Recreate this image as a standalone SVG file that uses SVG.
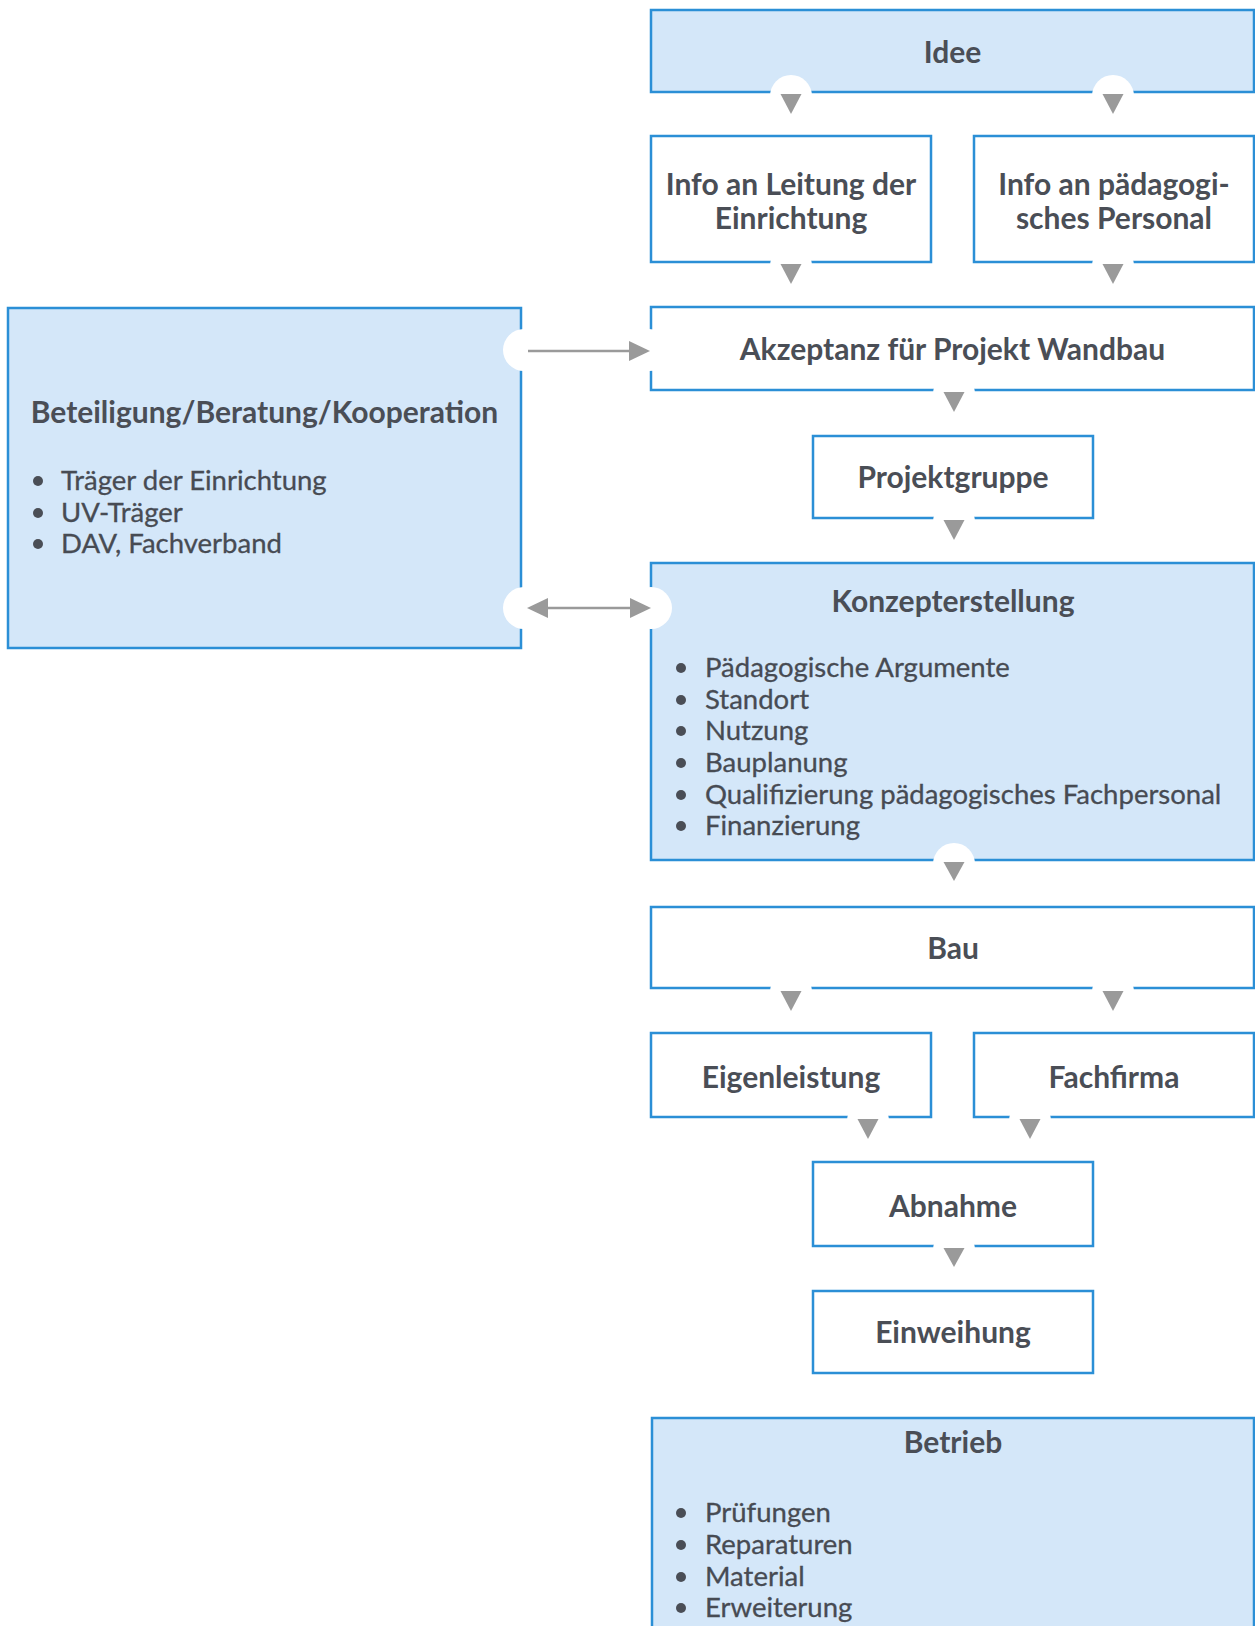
<svg xmlns="http://www.w3.org/2000/svg" width="1255" height="1626" viewBox="0 0 1255 1626">
<style>
.box{stroke:#2b8fd6;stroke-width:2.5}
.blue{fill:#d4e7f9}
.white{fill:#ffffff}
.t{font-family:Lato,"Noto Sans",sans-serif;font-weight:700;font-size:30px;fill:#4a4e56;text-anchor:middle}
.b{font-family:Lato,"Noto Sans",sans-serif;font-weight:400;font-size:27.5px;fill:#474b53;stroke:#474b53;stroke-width:0.3}
.dot{fill:#4a4e56}
.notch{fill:#ffffff}
.tri{fill:#9a9a9a}
.ln{stroke:#9a9a9a;stroke-width:2.5;fill:none}
</style>
<rect width="1255" height="1626" fill="#ffffff"/>
<g id="idee"><rect class="box blue" x="651" y="10" width="603" height="82"/><text class="t" x="952.5" y="63">Idee</text></g>
<g id="info-leitung"><rect class="box white" x="651" y="136" width="280" height="126"/><text class="t" x="791" y="195">Info an Leitung der</text><text class="t" x="791" y="229">Einrichtung</text></g>
<g id="info-personal"><rect class="box white" x="974" y="136" width="280" height="126"/><text class="t" x="1114" y="195">Info an pädagogi-</text><text class="t" x="1114" y="229">sches Personal</text></g>
<g id="akzeptanz"><rect class="box white" x="651" y="307" width="603" height="83"/><text class="t" x="952.5" y="360">Akzeptanz für Projekt Wandbau</text></g>
<g id="projektgruppe"><rect class="box white" x="813" y="436" width="280" height="82"/><text class="t" x="953" y="488">Projektgruppe</text></g>
<g id="konzepterstellung"><rect class="box blue" x="651" y="563" width="603" height="297"/><text class="t" x="953" y="612">Konzepterstellung</text>
<circle class="dot" cx="681" cy="668" r="5"/><text class="b" x="705" y="677">Pädagogische Argumente</text>
<circle class="dot" cx="681" cy="700" r="5"/><text class="b" x="705" y="709">Standort</text>
<circle class="dot" cx="681" cy="731" r="5"/><text class="b" x="705" y="740">Nutzung</text>
<circle class="dot" cx="681" cy="763" r="5"/><text class="b" x="705" y="772">Bauplanung</text>
<circle class="dot" cx="681" cy="795" r="5"/><text class="b" x="705" y="804">Qualifizierung pädagogisches Fachpersonal</text>
<circle class="dot" cx="681" cy="826" r="5"/><text class="b" x="705" y="835">Finanzierung</text></g>
<g id="bau"><rect class="box white" x="651" y="907" width="603" height="81"/><text class="t" x="953" y="959">Bau</text></g>
<g id="eigenleistung"><rect class="box white" x="651" y="1033" width="280" height="84"/><text class="t" x="791" y="1088">Eigenleistung</text></g>
<g id="fachfirma"><rect class="box white" x="974" y="1033" width="280" height="84"/><text class="t" x="1114" y="1088">Fachfirma</text></g>
<g id="abnahme"><rect class="box white" x="813" y="1162" width="280" height="84"/><text class="t" x="953" y="1217">Abnahme</text></g>
<g id="einweihung"><rect class="box white" x="813" y="1291" width="280" height="82"/><text class="t" x="953" y="1343">Einweihung</text></g>
<g id="betrieb"><rect class="box blue" x="652" y="1418" width="602" height="240"/><text class="t" x="953" y="1453">Betrieb</text>
<circle class="dot" cx="681" cy="1513" r="5"/><text class="b" x="705" y="1522">Prüfungen</text>
<circle class="dot" cx="681" cy="1545" r="5"/><text class="b" x="705" y="1554">Reparaturen</text>
<circle class="dot" cx="681" cy="1577" r="5"/><text class="b" x="705" y="1586">Material</text>
<circle class="dot" cx="681" cy="1608" r="5"/><text class="b" x="705" y="1617">Erweiterung</text></g>
<g id="beteiligung"><rect class="box blue" x="8" y="308" width="513" height="340"/><text class="t" x="264.5" y="423">Beteiligung/Beratung/Kooperation</text>
<circle class="dot" cx="38" cy="481" r="5"/><text class="b" x="61" y="490">Träger der Einrichtung</text>
<circle class="dot" cx="38" cy="513" r="5"/><text class="b" x="61" y="522">UV-Träger</text>
<circle class="dot" cx="38" cy="544" r="5"/><text class="b" x="61" y="553">DAV, Fachverband</text></g>
<g id="connectors">
<g class="notch">
<circle cx="791" cy="96" r="21"/><circle cx="1113" cy="96" r="21"/>
<circle cx="791" cy="266" r="21"/><circle cx="1113" cy="266" r="21"/>
<circle cx="954" cy="394" r="21"/><circle cx="954" cy="522" r="21"/>
<circle cx="954" cy="864" r="21"/>
<circle cx="791" cy="992" r="21"/><circle cx="1113" cy="992" r="21"/>
<circle cx="868" cy="1121" r="21"/><circle cx="1030" cy="1121" r="21"/>
<circle cx="954" cy="1250" r="21"/>
<circle cx="524" cy="350" r="21"/><circle cx="649" cy="350" r="21"/>
<circle cx="524" cy="608" r="21"/><circle cx="651" cy="608" r="21"/>
</g>
<g class="tri">
<polygon points="780.5,94 801.5,94 791,114"/><polygon points="1102.5,94 1123.5,94 1113,114"/>
<polygon points="780.5,264 801.5,264 791,284"/><polygon points="1102.5,264 1123.5,264 1113,284"/>
<polygon points="943.5,392 964.5,392 954,412"/>
<polygon points="943.5,520 964.5,520 954,540"/>
<polygon points="943.5,862 964.5,862 954,881"/>
<polygon points="780.5,991 801.5,991 791,1011"/><polygon points="1102.5,991 1123.5,991 1113,1011"/>
<polygon points="857.5,1119 878.5,1119 868,1139"/><polygon points="1019.5,1119 1040.5,1119 1030,1139"/>
<polygon points="943.5,1248 964.5,1248 954,1267"/>
</g>
<line class="ln" x1="528" y1="351" x2="631" y2="351"/>
<polygon class="tri" points="629,341 650,351 629,361"/>
<line class="ln" x1="546" y1="608" x2="632" y2="608"/>
<polygon class="tri" points="548,598 527,608 548,618"/>
<polygon class="tri" points="630,598 651,608 630,618"/>
</g>
</svg>
